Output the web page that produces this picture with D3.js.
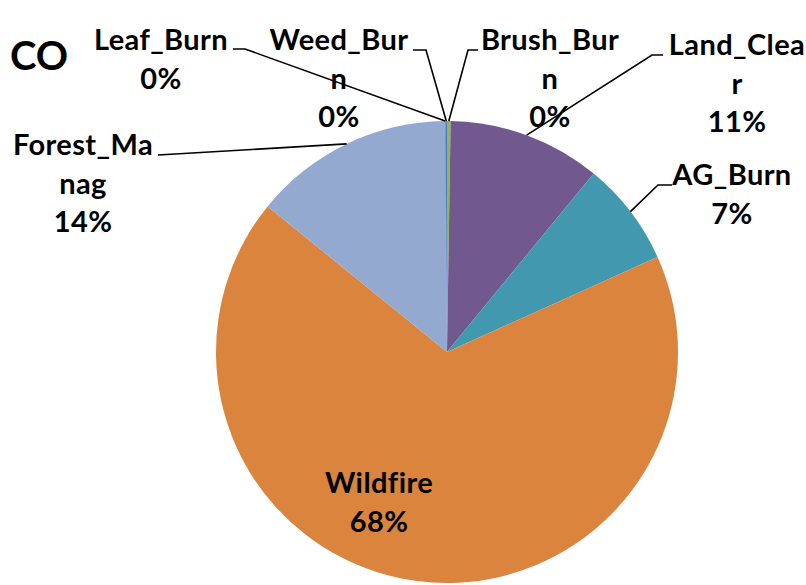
<!DOCTYPE html>
<html>
<head>
<meta charset="utf-8">
<script src="https://cdn.jsdelivr.net/npm/d3@7"></script>
<style>
  html, body { margin: 0; padding: 0; background: #fff; }
  svg { display: block; }
  text { font-family: Lato, "Open Sans", sans-serif; font-weight: bold; fill: #000; }
</style>
</head>
<body>
<svg id="chart" width="806" height="585"></svg>
<script>
// CO emissions share by source category (percent), clockwise from 12 o'clock
const categories = ["Brush_Burn", "Land_Clear", "AG_Burn", "Wildfire", "Forest_Manag", "Leaf_Burn", "Weed_Burn"];
const shares = [0.25, 10.7, 7.3, 67.6, 14.0, 0.05, 0.1];
// label lines as wrapped by the chart (category name split over lines)
const labelLines = [
  ["Brush_Bur", "n"],
  ["Land_Clea", "r"],
  ["AG_Burn"],
  ["Wildfire"],
  ["Forest_Ma", "nag"],
  ["Leaf_Burn"],
  ["Weed_Bur", "n"]
];
const title = "CO";

const colors = {
  Brush_Burn: "#93B555",
  Land_Clear: "#71588F",
  AG_Burn: "#4198AF",
  Wildfire: "#DB843D",
  Forest_Manag: "#93A9CF",
  Leaf_Burn: "#4A7EBB",
  Weed_Burn: "#4A7EBB"
};

// label anchor (centre x, first baseline y) and leader elbow for each category
const layout = {
  Brush_Burn:   { x: 550, y: 50,  elbow: [[478, 50], [468, 50]] },
  Land_Clear:   { x: 737, y: 55,  elbow: [[663, 55], [652, 55]] },
  AG_Burn:      { x: 732, y: 185, elbow: [[672, 185], [658, 185]] },
  Wildfire:     { x: 379, y: 493, elbow: null },
  Forest_Manag: { x: 83,  y: 155, elbow: [[158, 155]] },
  Leaf_Burn:    { x: 161, y: 50,  elbow: [[233, 49], [245, 49]] },
  Weed_Burn:    { x: 339, y: 50,  elbow: [[413, 50], [426, 50]] }
};

const svg = d3.select("#chart");
const cx = 447, cy = 352, r = 231;
const lineH = 38.5;

const data = categories.map((c, i) => ({ name: c, value: shares[i], lines: labelLines[i] }));
const total = d3.sum(shares);

const pie = d3.pie().value(d => d.value).sort(null).startAngle(0).endAngle(2 * Math.PI);
const arcs = pie(data);
const arc = d3.arc().innerRadius(0).outerRadius(r);

const g = svg.append("g").attr("transform", `translate(${cx},${cy})`);
g.selectAll("path.slice")
  .data(arcs)
  .join("path")
  .attr("class", "slice")
  .attr("d", arc)
  .attr("fill", d => colors[d.data.name]);

const pct = d => d3.format(".0f")(d.data.value / total * 100) + "%";

// leader lines from slice edge midpoint to the label
arcs.forEach(a => {
  const L = layout[a.data.name];
  if (!L.elbow) return;
  const mid = (a.startAngle + a.endAngle) / 2;
  const edge = [cx + r * Math.sin(mid), cy - r * Math.cos(mid)];
  const pts = L.elbow.concat([edge]);
  svg.append("path")
    .attr("d", d3.line()(pts))
    .attr("fill", "none")
    .attr("stroke", "#000")
    .attr("stroke-width", 1.6);
});

// labels: wrapped name lines followed by percentage
arcs.forEach(a => {
  const L = layout[a.data.name];
  const lines = a.data.lines.concat([pct(a)]);
  const t = svg.append("text")
    .attr("text-anchor", "middle")
    .attr("font-size", 29)
    .attr("letter-spacing", 0.4);
  lines.forEach((s, i) => {
    t.append("tspan").attr("x", L.x).attr("y", L.y + i * lineH).text(s);
  });
});

svg.append("text")
  .attr("x", 10).attr("y", 70)
  .attr("font-size", 40)
  .text(title);
</script>
</body>
</html>
